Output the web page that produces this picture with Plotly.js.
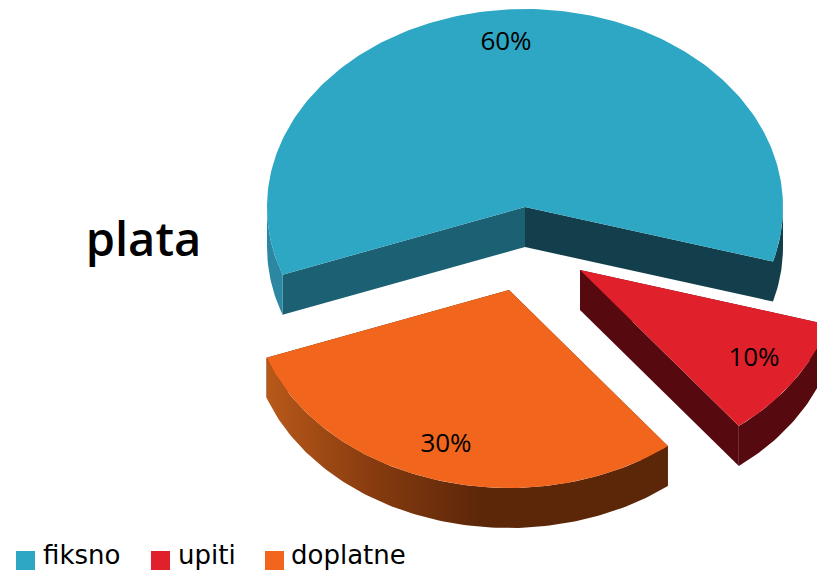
<!DOCTYPE html>
<html><head><meta charset="utf-8">
<script src="https://cdn.plot.ly/plotly-3.0.1.min.js"></script>
<style>html,body{margin:0;padding:0;background:#fff}</style></head>
<body><div id="chart" style="width:817px;height:570px"></div>
<script>
// Data
const categories = ['fiksno', 'upiti', 'doplatne'];
const shares = [60, 10, 30];
const chartTitle = 'plata';
const topColors = ['#2EA7C4', '#E0202B', '#F1661C'];
const sideColors = ['#2B87A2', '#560A10', '#5C2709'];

// Drawing set-up (pixel-like axis units)
const RX = 258, RY = 198, DEPTH = 40, START = 250;
const centerX = [525, 580, 509], centerY = [207, 270, 290];
const faceStart = ['#1C6074', '#560A10', '#5C2709'];
const faceEnd = ['#133F4C', '#560A10', '#5C2709'];
const labelX = [506, 754, 446], labelY = [43, 359, 445];
const font = '"Open Sans", sans-serif';
const legendFont = '"DejaVu Sans", sans-serif';

const pt = (i, deg, dy) => {
  const r = deg * Math.PI / 180;
  return [centerX[i] + RX * Math.sin(r), centerY[i] - RY * Math.cos(r) + (dy || 0)];
};
const arc = (i, a, b, dy) => {
  const out = [], n = Math.max(2, Math.ceil(Math.abs(b - a)));
  for (let k = 0; k <= n; k++) out.push(pt(i, a + (b - a) * k / n, dy));
  return out;
};
const poly = (points, color, extra) => Object.assign({
  x: points.map(p => p[0]), y: points.map(p => p[1]), mode: 'lines', fill: 'toself',
  fillcolor: color, line: {width: 0, color: color}, hoverinfo: 'skip', showlegend: false
}, extra || {});

const traces = [];
let angle = START;
shares.forEach((v, i) => {
  const a = angle, b = angle + v * 3.6;
  angle = b;
  const c = [centerX[i], centerY[i]];
  const cd = [centerX[i], centerY[i] + DEPTH];
  // cut faces
  traces.push(poly([c, pt(i, a), pt(i, a, DEPTH), cd], faceStart[i]));
  traces.push(poly([c, pt(i, b), pt(i, b, DEPTH), cd], faceEnd[i]));
  // outer rim, front half only (90..270 deg, also modulo 360)
  [[90, 270], [450, 630]].forEach(([lo, hi]) => {
    const s = Math.max(a, lo), e = Math.min(b, hi);
    if (e > s) {
      const rim = arc(i, s, e, 0).concat(arc(i, e, s, DEPTH));
      const extra = i === 2 ? {fillgradient: {type: 'horizontal', start: 267, stop: 480,
        colorscale: [[0, '#B8591A'], [0.5, '#873B0F'], [1, '#5C2709']]}} : {};
      traces.push(poly(rim, (i === 0 && s >= 450) ? faceEnd[0] : sideColors[i], extra));
    }
  });
  // top
  traces.push(poly([c].concat(arc(i, a, b, 0)), topColors[i]));
});

// value labels
traces.push({x: labelX, y: labelY, mode: 'text', text: shares.map(v => v + '%'),
  textposition: 'middle center', textfont: {family: font, size: 26, color: '#000'},
  hoverinfo: 'skip', showlegend: false});

// legend keys
const keyX = [25.5, 160.5, 274.5], keyTextX = [43, 178, 291], keyY = 560.5;
categories.forEach((name, i) => {
  traces.push({x: [keyX[i]], y: [keyY], mode: 'markers', name: name,
    marker: {symbol: 'square', size: 19, color: topColors[i], line: {width: 0}},
    cliponaxis: false, hoverinfo: 'skip', showlegend: false});
  traces.push({x: [keyTextX[i]], y: [keyY - 3], mode: 'text', text: [name],
    textposition: 'middle right', textfont: {family: legendFont, size: 26, color: '#000'},
    cliponaxis: false, hoverinfo: 'skip', showlegend: false});
});

const hidden = {visible: false, fixedrange: true};
Plotly.newPlot('chart', traces, {
  width: 817, height: 570, margin: {l: 0, r: 0, t: 0, b: 0},
  paper_bgcolor: '#fff', plot_bgcolor: '#fff', showlegend: false,
  title: {text: chartTitle, font: {family: font, size: 47, weight: 600, color: '#000'},
    x: 143.5 / 817, xanchor: 'center', xref: 'paper', y: 1 - 240 / 570, yanchor: 'middle', yref: 'paper'},
  xaxis: Object.assign({range: [0, 817]}, hidden),
  yaxis: Object.assign({range: [570, 0]}, hidden)
}, {displayModeBar: false, staticPlot: true});
</script></body></html>
